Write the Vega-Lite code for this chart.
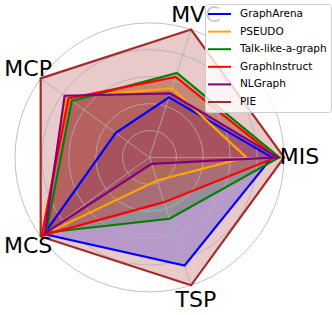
{
  "$schema": "https://vega.github.io/schema/vega-lite/v6.json",
  "width": 332,
  "height": 315,
  "autosize": {"type": "none"},
  "padding": 0,
  "config": {"view": {"stroke": null}, "font": "DejaVu Sans"},
  "datasets": {
    "scores": [
      {"model": "GraphArena", "task": "MIS", "value": 0.91},
      {"model": "GraphArena", "task": "MVC", "value": 0.47},
      {"model": "GraphArena", "task": "MCP", "value": 0.31},
      {"model": "GraphArena", "task": "MCS", "value": 0.97},
      {"model": "GraphArena", "task": "TSP", "value": 0.845},
      {"model": "PSEUDO", "task": "MIS", "value": 0.72},
      {"model": "PSEUDO", "task": "MVC", "value": 0.54},
      {"model": "PSEUDO", "task": "MCP", "value": 0.76},
      {"model": "PSEUDO", "task": "MCS", "value": 0.99},
      {"model": "PSEUDO", "task": "TSP", "value": 0.18},
      {"model": "Talk-like-a-graph", "task": "MIS", "value": 0.965},
      {"model": "Talk-like-a-graph", "task": "MVC", "value": 0.66},
      {"model": "Talk-like-a-graph", "task": "MCP", "value": 0.715},
      {"model": "Talk-like-a-graph", "task": "MCS", "value": 0.95},
      {"model": "Talk-like-a-graph", "task": "TSP", "value": 0.48},
      {"model": "GraphInstruct", "task": "MIS", "value": 0.94},
      {"model": "GraphInstruct", "task": "MVC", "value": 0.63},
      {"model": "GraphInstruct", "task": "MCP", "value": 0.745},
      {"model": "GraphInstruct", "task": "MCS", "value": 0.99},
      {"model": "GraphInstruct", "task": "TSP", "value": 0.35},
      {"model": "NLGraph", "task": "MIS", "value": 0.95},
      {"model": "NLGraph", "task": "MVC", "value": 0.5},
      {"model": "NLGraph", "task": "MCP", "value": 0.78},
      {"model": "NLGraph", "task": "MCS", "value": 0.96},
      {"model": "NLGraph", "task": "TSP", "value": 0.05},
      {"model": "PIE", "task": "MIS", "value": 1.0},
      {"model": "PIE", "task": "MVC", "value": 1.0},
      {"model": "PIE", "task": "MCP", "value": 1.0},
      {"model": "PIE", "task": "MCS", "value": 1.0},
      {"model": "PIE", "task": "TSP", "value": 1.0}
    ],
    "tasks": [
      {"task": "MIS"}, {"task": "MVC"}, {"task": "MCP"}, {"task": "MCS"}, {"task": "TSP"}
    ],
    "rings": [
      {"r": 0.2}, {"r": 0.4}, {"r": 0.6}, {"r": 0.8}, {"r": 1.0}
    ]
  },
  "layer": [
    {
      "data": {"name": "scores"},
      "transform": [
        {"calculate": "indexof(['MIS','MVC','MCP','MCS','TSP'], datum.task)", "as": "k"},
        {"calculate": "datum.k * 2 * PI / 5", "as": "ang"},
        {"calculate": "datum.value * cos(datum.ang)", "as": "px"},
        {"calculate": "datum.value * sin(datum.ang)", "as": "py"}
      ],
      "mark": {"type": "line", "interpolate": "linear-closed", "fillOpacity": 0.25, "strokeOpacity": 0, "strokeWidth": 0},
      "encoding": {
        "x": {"field": "px", "type": "quantitative", "scale": {"domain": [-1.1115, 1.3569], "nice": false, "zero": false}, "axis": null},
        "y": {"field": "py", "type": "quantitative", "scale": {"domain": [-1.1718, 1.1703], "nice": false, "zero": false}, "axis": null},
        "order": {"field": "k", "type": "quantitative"},
        "fill": {"field": "model", "type": "nominal", "scale": {"domain": ["GraphArena", "PSEUDO", "Talk-like-a-graph", "GraphInstruct", "NLGraph", "PIE"], "range": ["#0000ff", "#ffa500", "#008000", "#ff0000", "#800080", "#a52a2a"]}, "legend": null}
      }
    },
    {
      "data": {"name": "rings"},
      "transform": [
        {"calculate": "0", "as": "o"}
      ],
      "mark": {"type": "point", "shape": "circle", "filled": false, "stroke": "#b0b0b0", "strokeWidth": 0.8, "opacity": 1},
      "encoding": {
        "x": {"field": "o", "type": "quantitative", "scale": {"domain": [-1.1115, 1.3569], "nice": false, "zero": false}, "axis": null},
        "y": {"field": "o", "type": "quantitative", "scale": {"domain": [-1.1718, 1.1703], "nice": false, "zero": false}, "axis": null},
        "size": {"field": "r", "type": "quantitative", "scale": {"type": "pow", "exponent": 2, "domain": [0, 1], "range": [0, 72361]}, "legend": null}
      }
    },
    {
      "data": {"name": "tasks"},
      "transform": [
        {"calculate": "indexof(['MIS','MVC','MCP','MCS','TSP'], datum.task)", "as": "k"},
        {"calculate": "datum.k * 2 * PI / 5", "as": "ang"},
        {"calculate": "cos(datum.ang)", "as": "cx"},
        {"calculate": "sin(datum.ang)", "as": "cy"},
        {"calculate": "0", "as": "o"}
      ],
      "mark": {"type": "rule", "stroke": "#b0b0b0", "strokeWidth": 0.8},
      "encoding": {
        "x": {"field": "cx", "type": "quantitative", "scale": {"domain": [-1.1115, 1.3569], "nice": false, "zero": false}, "axis": null},
        "y": {"field": "cy", "type": "quantitative", "scale": {"domain": [-1.1718, 1.1703], "nice": false, "zero": false}, "axis": null},
        "x2": {"field": "o"},
        "y2": {"field": "o"}
      }
    },
    {
      "data": {"name": "scores"},
      "transform": [
        {"calculate": "indexof(['MIS','MVC','MCP','MCS','TSP'], datum.task)", "as": "k"},
        {"calculate": "datum.k * 2 * PI / 5", "as": "ang"},
        {"calculate": "datum.value * cos(datum.ang)", "as": "px"},
        {"calculate": "datum.value * sin(datum.ang)", "as": "py"}
      ],
      "mark": {"type": "line", "interpolate": "linear-closed", "strokeWidth": 2.2, "strokeJoin": "miter"},
      "encoding": {
        "x": {"field": "px", "type": "quantitative", "scale": {"domain": [-1.1115, 1.3569], "nice": false, "zero": false}, "axis": null},
        "y": {"field": "py", "type": "quantitative", "scale": {"domain": [-1.1718, 1.1703], "nice": false, "zero": false}, "axis": null},
        "order": {"field": "k", "type": "quantitative"},
        "color": {
          "field": "model", "type": "nominal",
          "scale": {"domain": ["GraphArena", "PSEUDO", "Talk-like-a-graph", "GraphInstruct", "NLGraph", "PIE"], "range": ["#0000ff", "#ffa500", "#008000", "#ff0000", "#800080", "#a52a2a"]},
          "legend": {
            "title": null,
            "orient": "none",
            "legendX": 205,
            "legendY": 4,
            "padding": 4,
            "symbolType": "M-2.3,0H2.3",
            "symbolSize": 100,
            "symbolStrokeWidth": 2,
            "symbolOffset": 4.5,
            "labelOffset": 14.5,
            "labelFontSize": 10.5,
            "labelFont": "DejaVu Sans",
            "labelColor": "#000000",
            "rowPadding": 5.6,
            "strokeColor": "#cccccc",
            "fillColor": "rgba(255,255,255,0.8)",
            "cornerRadius": 3
          }
        }
      }
    },
    {
      "data": {"name": "tasks"},
      "transform": [
        {"calculate": "indexof(['MIS','MVC','MCP','MCS','TSP'], datum.task)", "as": "k"},
        {"calculate": "datum.k * 2 * PI / 5", "as": "ang"},
        {"calculate": "1.115 * cos(datum.ang)", "as": "lx"},
        {"calculate": "1.115 * sin(datum.ang)", "as": "ly"}
      ],
      "mark": {"type": "text", "fontSize": 22, "font": "DejaVu Sans", "align": "center", "baseline": "middle", "color": "#000000"},
      "encoding": {
        "x": {"field": "lx", "type": "quantitative", "scale": {"domain": [-1.1115, 1.3569], "nice": false, "zero": false}, "axis": null},
        "y": {"field": "ly", "type": "quantitative", "scale": {"domain": [-1.1718, 1.1703], "nice": false, "zero": false}, "axis": null},
        "text": {"field": "task", "type": "nominal"}
      }
    }
  ],
  "resolve": {"legend": {"color": "independent", "fill": "independent"}}
}
